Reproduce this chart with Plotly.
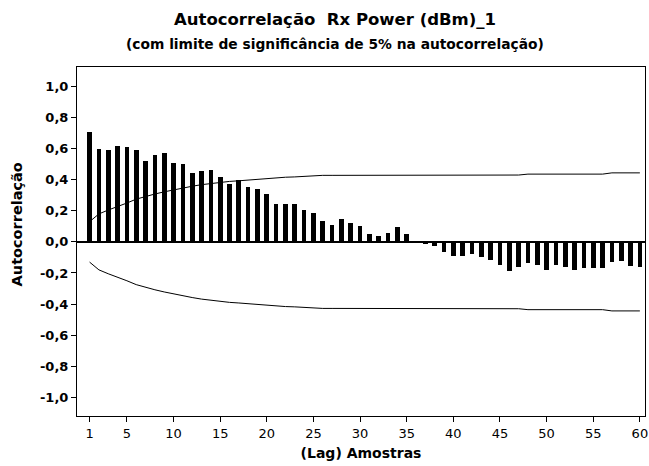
import plotly.graph_objects as go

lags = list(range(1, 61))
acf = [0.71, 0.60, 0.59, 0.615, 0.61, 0.59, 0.52, 0.56, 0.57, 0.505,
       0.50, 0.44, 0.455, 0.46, 0.415, 0.37, 0.395, 0.35, 0.34, 0.305,
       0.245, 0.245, 0.245, 0.205, 0.187, 0.135, 0.11, 0.145, 0.12, 0.10,
       0.05, 0.035, 0.055, 0.095, 0.053, -0.01, -0.012, -0.028, -0.062, -0.088,
       -0.088, -0.08, -0.10, -0.116, -0.15, -0.19, -0.16, -0.133, -0.15, -0.18,
       -0.15, -0.16, -0.178, -0.165, -0.165, -0.17, -0.13, -0.12, -0.158, -0.164]
upper_limit = [0.13, 0.18, 0.205, 0.225, 0.25, 0.275, 0.293, 0.308, 0.322, 0.335,
               0.348, 0.358, 0.368, 0.376, 0.383, 0.389, 0.393, 0.398, 0.405, 0.41,
               0.414, 0.416, 0.418, 0.422, 0.428, 0.428, 0.428, 0.428, 0.428, 0.428,
               0.428, 0.428, 0.428, 0.428, 0.428, 0.428, 0.428, 0.428, 0.428, 0.428,
               0.428, 0.429, 0.429, 0.429, 0.429, 0.429, 0.43, 0.436, 0.436, 0.436,
               0.436, 0.436, 0.436, 0.436, 0.436, 0.436, 0.444, 0.444, 0.444, 0.444]
lower_limit = [-v for v in upper_limit]

x_ticks = [1, 5, 10, 15, 20, 25, 30, 35, 40, 45, 50, 55, 60]
y_ticks = [-1.0, -0.8, -0.6, -0.4, -0.2, 0.0, 0.2, 0.4, 0.6, 0.8, 1.0]
y_tick_labels = ["-1,0", "-0,8", "-0,6", "-0,4", "-0,2", "0,0", "0,2", "0,4", "0,6", "0,8", "1,0"]

FONT = "Tahoma, DejaVu Sans, sans-serif"

fig = go.Figure()
fig.add_trace(go.Bar(x=lags, y=acf, width=0.5, marker=dict(color="black", line=dict(width=0)),
                     showlegend=False))
fig.add_trace(go.Scatter(x=lags, y=upper_limit, mode="lines", line=dict(color="black", width=1),
                         showlegend=False))
fig.add_trace(go.Scatter(x=lags, y=lower_limit, mode="lines", line=dict(color="black", width=1),
                         showlegend=False))

fig.update_layout(
    width=649, height=466,
    margin=dict(l=77, r=1, t=67, b=50),
    paper_bgcolor="white", plot_bgcolor="white",
    separators=",.",
    font=dict(family=FONT, color="black"),
    bargap=0,
    annotations=[
        dict(text="<b>Autocorrelação  Rx Power (dBm)_1</b>", xref="paper", yref="paper",
             x=0.4536, y=1.135, xanchor="center", yanchor="middle", showarrow=False,
             font=dict(size=16.5, family=FONT)),
        dict(text="<b>(com limite de significância de 5% na autocorrelação)</b>", xref="paper", yref="paper",
             x=0.4536, y=1.066, xanchor="center", yanchor="middle", showarrow=False,
             font=dict(size=13.8, family=FONT)),
        dict(text="<b>Autocorrelação</b>", xref="paper", yref="paper",
             x=-0.105, y=0.55, xanchor="center", yanchor="middle", showarrow=False,
             textangle=-90, font=dict(size=14.5, family=FONT)),
    ],
)
fig.update_xaxes(
    range=[-0.35, 60.55], tickmode="array", tickvals=x_ticks,
    ticks="outside", ticklen=5, tickcolor="black", tickwidth=1,
    showline=True, linecolor="black", linewidth=1, mirror=True,
    showgrid=False, zeroline=False, ticklabeloverflow="allow",
    tickfont=dict(size=13, family=FONT),
    title=dict(text="<b>(Lag) Amostras</b>", font=dict(size=14, family=FONT), standoff=8),
)
fig.update_yaxes(
    range=[-1.12, 1.125], tickmode="array", tickvals=y_ticks, ticktext=y_tick_labels,
    ticks="outside", ticklen=5, tickcolor="black", tickwidth=1,
    showline=True, linecolor="black", linewidth=1, mirror=True,
    showgrid=False, zeroline=True, zerolinecolor="black", zerolinewidth=1.5,
    tickfont=dict(size=13, family=FONT, weight="bold"),
)

fig.write_html("out.html")
